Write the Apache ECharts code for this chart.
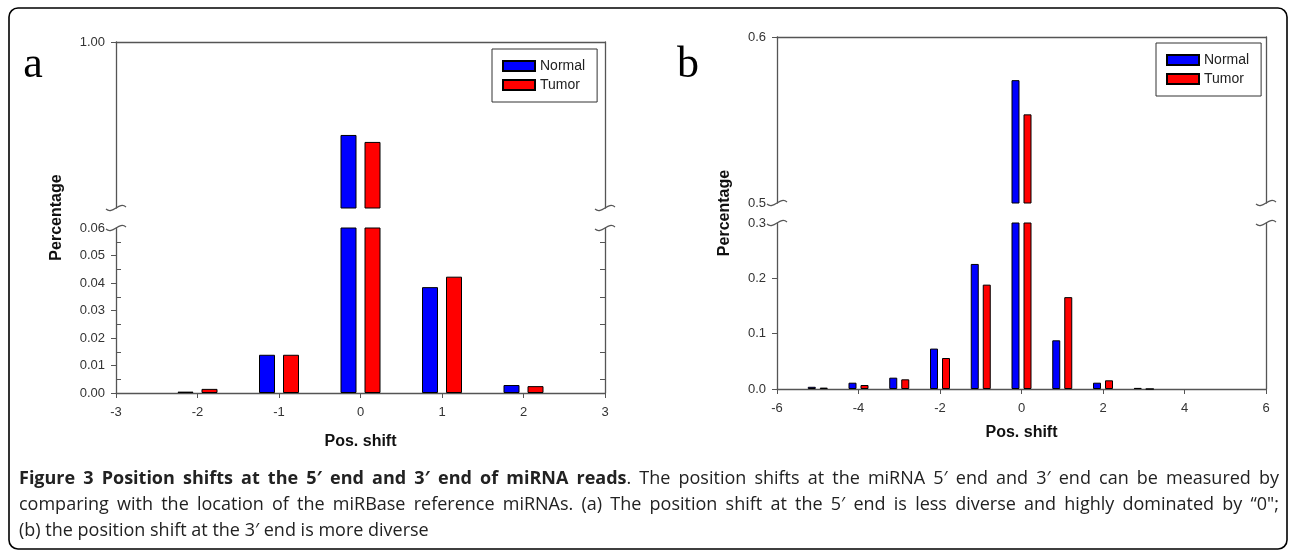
<!DOCTYPE html>
<html><head><meta charset="utf-8">
<script src="https://cdn.jsdelivr.net/npm/echarts@6/dist/echarts.min.js"></script>
<style>html,body{margin:0;padding:0;background:#fff}#c{width:1290px;height:553px}</style>
</head><body><div id="c"></div>
<script>
// ---- data ----
const shiftsA = [-2, -1, 0, 1, 2];
const normalA = [0.0005, 0.0139, 0.944, 0.0385, 0.0029];
const tumorA  = [0.0015, 0.0139, 0.9398, 0.0423, 0.0025];
const shiftsB = [-5, -4, -3, -2, -1, 0, 1, 2, 3];
const normalB = [0.004, 0.0114, 0.0205, 0.073, 0.226, 0.574, 0.088, 0.0114, 0.002];
const tumorB  = [0.0025, 0.0072, 0.0175, 0.056, 0.1886, 0.5534, 0.166, 0.0157, 0];
const seriesNames = ['Normal', 'Tumor'];
const xLabelName = 'Pos. shift';
const yLabelName = 'Percentage';
const panelLetters = ['a', 'b'];
const captionLines = [
  [["Figure 3 Position shifts at the 5\u2032 end and 3\u2032 end of miRNA reads", true], [". The position shifts at the miRNA 5\u2032 end and 3\u2032 end can be measured by", false]],
  [["comparing with the location of the miRBase reference miRNAs. (a) The position shift at the 5\u2032 end is less diverse and highly dominated by \u201C0\";", false]],
  [["(b) the position shift at the 3\u2032 end is more diverse", false]]
];

// ---- layout / style ----
const FONT = 'Liberation Sans';
const AX = '#555';
const G = {
  aU: {left: 116, top: 42, width: 489, height: 166},
  aL: {left: 116, top: 228, width: 489, height: 165},
  bU: {left: 777, top: 37, width: 489, height: 166},
  bL: {left: 777, top: 223, width: 489, height: 166}
};
const lineStyle = {color: AX, width: 1.3};
const lbl = {fontSize: 13, color: '#333', fontFamily: FONT};

function xAx(gi, min, max, itv, pos, gap) {
  const bottom = pos === 'bottom';
  return {
    type: 'value', gridIndex: gi, min, max, interval: itv, position: pos,
    axisLine: {show: true, onZero: false, lineStyle},
    axisTick: {show: bottom, length: 5, lineStyle: {color: AX}},
    axisLabel: Object.assign({show: bottom, margin: 13}, lbl),
    splitLine: {show: false},
    name: bottom ? xLabelName : '', nameLocation: 'middle', nameGap: gap || 38,
    nameTextStyle: {fontSize: 16, fontWeight: 'bold', fontFamily: FONT, color: '#111'}
  };
}
function yAx(gi, o) {
  return Object.assign({
    type: 'value', gridIndex: gi, position: 'left',
    splitLine: {show: false},
    axisLine: {show: true, onZero: false, lineStyle}
  }, o);
}
const yAxes = [
  yAx(0, {min: 0.9, max: 1, interval: 0.1,
    axisTick: {show: true, length: 5, customValues: [1], lineStyle: {color: AX}},
    axisLabel: Object.assign({customValues: [1], margin: 11, formatter: v => v.toFixed(2)}, lbl)}),
  yAx(0, {position: 'right', min: 0.9, max: 1, interval: 0.1, axisTick: {show: false}, axisLabel: {show: false}}),
  yAx(1, {min: 0, max: 0.06, interval: 0.01,
    axisTick: {show: true, length: 5, customValues: [0, 0.01, 0.02, 0.03, 0.04, 0.05], lineStyle: {color: AX}},
    minorTick: {show: true, splitNumber: 2, length: -5, lineStyle: {color: AX}},
    axisLabel: Object.assign({margin: 11, formatter: v => v.toFixed(2)}, lbl)}),
  yAx(1, {position: 'right', min: 0, max: 0.06, interval: 0.01, axisTick: {show: false},
    minorTick: {show: true, splitNumber: 2, length: -5, lineStyle: {color: AX}}, axisLabel: {show: false}}),
  yAx(2, {min: 0.5, max: 0.6, interval: 0.1,
    axisTick: {show: true, length: 5, customValues: [0.6], lineStyle: {color: AX}},
    axisLabel: Object.assign({margin: 11, formatter: v => v.toFixed(1)}, lbl)}),
  yAx(2, {position: 'right', min: 0.5, max: 0.6, interval: 0.1, axisTick: {show: false}, axisLabel: {show: false}}),
  yAx(3, {min: 0, max: 0.3, interval: 0.1,
    axisTick: {show: true, length: 5, customValues: [0, 0.1, 0.2], lineStyle: {color: AX}},
    axisLabel: Object.assign({margin: 11, formatter: v => v.toFixed(1)}, lbl)}),
  yAx(3, {position: 'right', min: 0, max: 0.3, interval: 0.1, axisTick: {show: false}, axisLabel: {show: false}})
];

const colors = ['#0000FF', '#FF0000'];
function bars(si, xs, ys, xi, yi, w) {
  return {
    type: 'bar', name: seriesNames[si], xAxisIndex: xi, yAxisIndex: yi,
    barWidth: w, barGap: '50%', clip: true,
    data: xs.map((x, i) => [x, ys[i]]),
    itemStyle: {color: colors[si], borderColor: '#000', borderWidth: 1}
  };
}
const series = [
  bars(0, shiftsA, normalA, 0, 0, 16), bars(1, shiftsA, tumorA, 0, 0, 16),
  bars(0, shiftsA, normalA, 1, 2, 16), bars(1, shiftsA, tumorA, 1, 2, 16),
  bars(0, shiftsB, normalB, 2, 4, 8), bars(1, shiftsB, tumorB, 2, 4, 8),
  bars(0, shiftsB, normalB, 3, 6, 8), bars(1, shiftsB, tumorB, 3, 6, 8)
];

function legend(left, top) {
  return {
    left, top, orient: 'vertical', data: seriesNames, icon: 'rect', selectedMode: false,
    borderColor: '#333', borderWidth: 1, padding: [10, 12, 10, 10],
    itemWidth: 32, itemHeight: 10, itemGap: 5,
    textStyle: {fontSize: 14, fontFamily: FONT, color: '#222'}
  };
}

// ---- graphics: frame, panel letters, y titles, break marks, caption ----
const graphic = [];
graphic.push({type: 'rect', shape: {x: 9, y: 8, width: 1278, height: 541, r: 9},
  style: {fill: 'none', stroke: '#000', lineWidth: 1.6}, silent: true});
[33, 688].forEach((x, i) => {
  graphic.push({type: 'text', x, y: 87, style: {text: panelLetters[i], font: '44px "Liberation Serif"', fill: '#000', textAlign: 'center', textVerticalAlign: 'bottom'}});
});
[[G.aU, G.aL, 57], [G.bU, G.bL, 725]].forEach(([u, l, x]) => {
  graphic.push({type: 'text', x, y: (u.top + l.top + l.height) / 2, rotation: Math.PI / 2,
    style: {text: yLabelName, font: 'bold 16px "Liberation Sans"', fill: '#111', textAlign: 'center', textVerticalAlign: 'middle'}});
});
function tilde(cx, cy) {
  return {type: 'bezierCurve', silent: true,
    shape: {x1: cx - 10, y1: cy + 1, cpx1: cx - 3, cpy1: cy + 7, cpx2: cx + 3, cpy2: cy - 7, x2: cx + 10, y2: cy - 1},
    style: {fill: 'none', stroke: AX, lineWidth: 1.2}};
}
[[G.aU, G.aL], [G.bU, G.bL]].forEach(([u, l]) => {
  [u.left, u.left + u.width].forEach(x => {
    graphic.push(tilde(x, u.top + u.height));
    graphic.push(tilde(x, l.top));
  });
});

// caption with justified lines
const cv = document.createElement('canvas').getContext('2d');
const CAP_FAMILY = '"Open Sans"';
cv.font = `100px ${CAP_FAMILY}`;
let capSize = 437 * 100 / cv.measureText(captionLines[2][0][0]).width;
capSize = Math.max(13, Math.min(18, capSize));
const fontOf = b => `${b ? 'bold ' : ''}${capSize.toFixed(2)}px ${CAP_FAMILY}`;
function meas(t, b) { cv.font = fontOf(b); return cv.measureText(t).width; }
function words(line) {
  const out = []; let cur = [];
  line.forEach(([t, b]) => {
    t.split(/( )/).forEach(p => {
      if (p === ' ') { if (cur.length) out.push(cur); cur = []; }
      else if (p) cur.push([p, b]);
    });
  });
  if (cur.length) out.push(cur);
  return out;
}
const capX = 19, capW = 1260, capY = [479, 505, 531];
captionLines.forEach((line, li) => {
  const ws = words(line);
  const wWidths = ws.map(w => w.reduce((s, [t, b]) => s + meas(t, b), 0));
  const total = wWidths.reduce((a, b) => a + b, 0);
  const justify = li < captionLines.length - 1;
  const gap = justify ? (capW - total) / (ws.length - 1) : meas(' ', false);
  let x = capX;
  ws.forEach((w) => {
    w.forEach(([t, b]) => {
      graphic.push({type: 'text', x, y: capY[li], silent: true,
        style: {text: t, font: fontOf(b), fill: '#222', textAlign: 'left', textVerticalAlign: 'middle'}});
      x += meas(t, b);
    });
    x += gap;
  });
});

const chart = echarts.init(document.getElementById('c'), null, {renderer: 'canvas'});
chart.setOption({
  animation: false,
  backgroundColor: '#fff',
  grid: [G.aU, G.aL, G.bU, G.bL].map(g => Object.assign({containLabel: false}, g)),
  xAxis: [xAx(0, -3, 3, 1, 'top'), xAx(1, -3, 3, 1, 'bottom', 41), xAx(2, -6, 6, 2, 'top'), xAx(3, -6, 6, 2, 'bottom', 36)],
  yAxis: yAxes,
  legend: [legend(492, 49), legend(1156, 43)],
  series,
  graphic
});
</script>
</body></html>
